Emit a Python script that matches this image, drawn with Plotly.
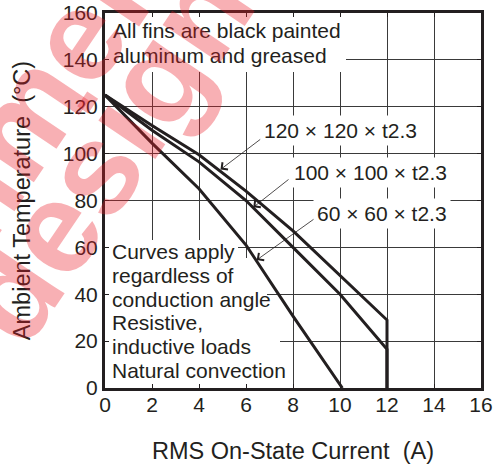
import plotly.graph_objects as go

# ---------------- data ----------------
current_120 = [0, 2, 4, 6, 8, 10, 12, 12]
temp_120 = [125, 112, 99.5, 84, 67, 48, 29, 0]

current_100 = [0, 2, 4, 6, 8, 10, 12, 12]
temp_100 = [125, 110, 96.5, 80, 60, 40, 16.5, 0]

current_60 = [0, 2, 4, 6, 8, 10.1]
temp_60 = [125, 104.5, 85, 61, 30.7, 0]

x_ticks = [0, 2, 4, 6, 8, 10, 12, 14, 16]
y_ticks = [0, 20, 40, 60, 80, 100, 120, 140, 160]

series_labels = ["120 × 120 × t2.3", "100 × 100 × t2.3", "60 × 60 × t2.3"]
note_top = ["All fins are black painted", "aluminum and greased"]
note_bottom = ["Curves apply", "regardless of", "conduction angle",
               "Resistive,", "inductive loads", "Natural convection"]
watermark = ["Not recommended for", "new design"]

x_title = "RMS On-State Current\u00a0 (A)"
y_title = "Ambient Temperature\u00a0 (°C)"

# ---------------- layout geometry ----------------
W, H = 500, 472
L, R, T, B = 105, 19, 13, 84
PW, PH = W - L - R, H - T - B
XMAX, YMAX = 16, 160
INK = "#231f20"
FONT = "Liberation Sans, Arial, Helvetica, sans-serif"


def dx(px):
    return (px - L) / PW * XMAX


def dy(py):
    return (T + PH - py) / PH * YMAX


def px_x(px):
    return (px - L) / PW


def px_y(py):
    return (T + PH - py) / PH


fig = go.Figure()
for xs, ys in [(current_120, temp_120), (current_100, temp_100), (current_60, temp_60)]:
    fig.add_trace(go.Scatter(x=xs, y=ys, mode="lines",
                             line=dict(color=INK, width=3),
                             hoverinfo="skip", showlegend=False))

shapes = []
# white masks hiding grid lines behind the note texts (below ticks/axes)
for (x0, x1, y0, y1) in [
    (L, 346, T, 72),
    (L, 238, 240, 258),
    (L, 267, 258, 310),
    (L, 280, 310, T + PH),
]:
    shapes.append(dict(type="rect", xref="x", yref="y", layer="between",
                       x0=dx(x0), x1=dx(x1), y0=dy(y1), y1=dy(y0),
                       fillcolor="white", line=dict(width=0)))

ann = []
for i, t in enumerate(note_top):
    ann.append(dict(x=dx(111), y=dy(30.5 + 25 * i), xref="x", yref="y",
                    text=t, showarrow=False, xanchor="left", yanchor="middle",
                    font=dict(size=21, color=INK, family=FONT)))
for i, t in enumerate(note_bottom):
    ann.append(dict(x=dx(109.5), y=dy(251.7 + 23.7 * i), xref="x", yref="y",
                    text=t, showarrow=False, xanchor="left", yanchor="middle",
                    font=dict(size=21, color=INK, family=FONT)))

# series labels (white background hides the grid behind them)
label_pos = [(421, 130), (451, 172), (451, 213.5)]
for t, (rx, cy) in zip(series_labels, label_pos):
    ann.append(dict(x=dx(rx), y=dy(cy), xref="x", yref="y", text=t,
                    showarrow=False, xanchor="right", yanchor="middle",
                    bgcolor="white", borderpad=3,
                    font=dict(size=21, color=INK, family=FONT)))

# leader lines
leaders = [((220.5, 169.5), (261.7, 138.3)),
           ((253.3, 207.3), (290.0, 178.3)),
           ((256.7, 260.0), (315.0, 218.3))]
for (tx, ty), (sx, sy) in leaders:
    ann.append(dict(x=dx(tx), y=dy(ty), xref="x", yref="y", text="",
                    showarrow=True, ax=sx - tx, ay=sy - ty,
                    arrowhead=4, arrowsize=2.2, arrowwidth=0.8,
                    arrowcolor=INK, standoff=0, startstandoff=0))

# watermark (semi-transparent, drawn on top of everything)
wm_pos = [(9.3, 137.6), (24.0, 273.0)]
for t, (cx, cy) in zip(watermark, wm_pos):
    ann.append(dict(x=px_x(cx), y=px_y(cy), xref="paper", yref="paper",
                    text="<b>" + t + "</b>", showarrow=False,
                    xanchor="center", yanchor="middle", textangle=-56,
                    font=dict(size=130, color="rgba(235,30,40,0.35)",
                              family=FONT)))

axis_common = dict(showgrid=True, gridcolor="#3a3a3a", gridwidth=1,
                   showline=True, linewidth=3, linecolor=INK, mirror="ticks",
                   ticks="inside", ticklen=4, tickwidth=1, tickcolor=INK,
                   zeroline=False, automargin=False,
                   tickfont=dict(size=21, color=INK, family=FONT))

fig.update_layout(
    width=W, height=H,
    margin=dict(l=L, r=R, t=T, b=B, pad=0),
    plot_bgcolor="white", paper_bgcolor="white",
    font=dict(family=FONT, color=INK),
    showlegend=False,
    xaxis=dict(range=[0, XMAX], tickvals=x_ticks, ticktext=[str(v) for v in x_ticks],
               ticklabelstandoff=-4,
               title=dict(text=x_title, font=dict(size=23.5, color=INK, family=FONT),
                          standoff=28),
               **axis_common),
    yaxis=dict(range=[0, YMAX], tickvals=y_ticks, ticktext=[str(v) for v in y_ticks],
               title=dict(text=y_title, font=dict(size=23.5, color=INK, family=FONT),
                          standoff=26),
               **axis_common),
    shapes=shapes,
    annotations=ann,
)

fig.write_html("out.html", config={"displayModeBar": False},
               post_script="document.body.style.margin='0';"
                           "document.body.style.padding='0';")
